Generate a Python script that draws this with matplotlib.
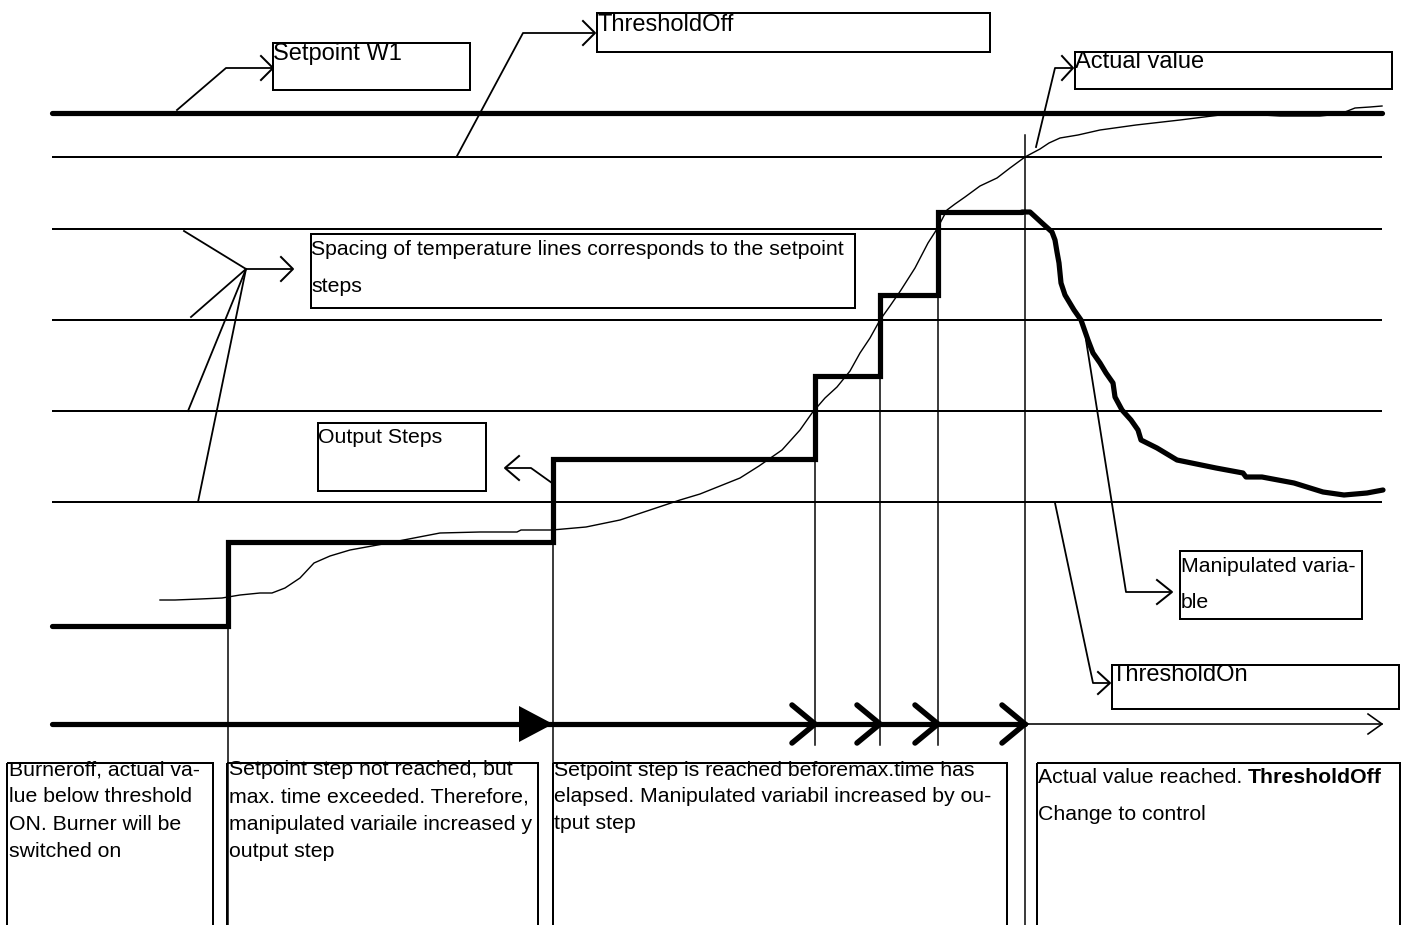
import matplotlib
matplotlib.use("Agg")
import matplotlib.pyplot as plt
from matplotlib.patches import Rectangle, Polygon

plt.rcParams['font.family'] = ['Liberation Sans', 'DejaVu Sans']

# ---------------- data (diagram coordinates, pixel-like units) ----------------
setpoint_y = 113
temp_lines_y = [157, 229, 320, 411, 502]
line_x = [52, 1382]

# manipulated variable: output steps then decay
out_step_x = [52, 228, 553, 815, 880, 938, 1022]
out_step_y = [626, 542, 459, 376, 295, 212, 212]
manip_decay_x = [1022, 1030, 1042, 1052, 1055, 1057, 1059, 1061, 1065, 1074, 1081, 1088, 1093,
                 1100, 1106, 1113, 1115, 1122, 1131, 1138, 1141, 1157, 1177, 1216, 1243, 1246,
                 1262, 1294, 1323, 1344, 1367, 1383]
manip_decay_y = [212, 212, 223, 232, 240, 252, 263, 283, 295, 310, 320, 340, 353,
                 363, 373, 383, 397, 410, 420, 430, 440, 448, 460, 468, 473, 477,
                 477, 483, 492, 495, 493, 490]

# actual value curve
actual_x = [160, 175, 200, 222, 240, 260, 272, 285, 300, 314, 330, 350, 383, 414, 440, 480,
            517, 521, 552, 586, 620, 650, 680, 700, 720, 740, 759, 782, 800, 812, 825, 837,
            850, 860, 870, 880, 890, 901, 915, 928, 937, 947, 955, 965, 980, 997, 1010, 1025,
            1040, 1049, 1060, 1078, 1100, 1136, 1180, 1220, 1245, 1280, 1320, 1340, 1355,
            1370, 1382]
actual_y = [600, 600, 599, 598, 595, 593, 593, 588, 578, 563, 556, 550, 544, 538, 533, 532,
            532, 530, 530, 527, 520, 510, 500, 494, 486, 478, 466, 450, 430, 413, 398, 387,
            371, 353, 338, 320, 306, 290, 268, 243, 229, 210, 204, 197, 186, 178, 168, 157,
            149, 143, 138, 135, 130, 125, 120, 115, 114, 116, 116, 114, 108, 107, 106]

# event (time) markers
event_x = [228, 553, 815, 880, 938, 1025]
event_top = [542, 459, 459, 376, 295, 135]
event_bottom = [925, 925, 745, 745, 745, 925]
timeline_y = 724
chevron_x = [815, 880, 938, 1025]

# ---------------- figure ----------------
fig = plt.figure(figsize=(14.06, 9.25), dpi=100)
ax = fig.add_axes([0, 0, 1, 1])
ax.set_xlim(0, 1406)
ax.set_ylim(925, 0)
ax.axis('off')

PX = 0.72  # points per pixel at 100 dpi
K = 'black'

# temperature lines
ax.plot(line_x, [setpoint_y] * 2, color=K, lw=5.2 * PX, solid_capstyle='round')
for y in temp_lines_y:
    ax.plot(line_x, [y, y], color=K, lw=2.0 * PX, solid_capstyle='butt')

# vertical event lines
for x, t, b in zip(event_x, event_top, event_bottom):
    ax.plot([x, x], [t, b], color=K, lw=1.5 * PX)

# actual value curve
ax.plot(actual_x, actual_y, color=K, lw=1.4 * PX)

# manipulated variable
ax.step(out_step_x, out_step_y, where='post', color=K, lw=5.2 * PX,
        solid_joinstyle='miter', solid_capstyle='round')
ax.plot(manip_decay_x, manip_decay_y, color=K, lw=5.2 * PX,
        solid_joinstyle='round', solid_capstyle='round')

# time line
ax.plot([52, 1025], [timeline_y] * 2, color=K, lw=5.2 * PX, solid_capstyle='round')
ax.plot([1025, 1382], [timeline_y] * 2, color=K, lw=1.6 * PX)
ax.add_patch(Polygon([[519, timeline_y - 18], [553, timeline_y], [519, timeline_y + 18]],
                     closed=True, color=K, lw=0))
for cx in chevron_x:
    ax.plot([cx - 23, cx, cx - 23], [timeline_y - 19, timeline_y, timeline_y + 19],
            color=K, lw=5.5 * PX, solid_capstyle='round', solid_joinstyle='miter')
ax.plot([1368, 1382, 1368], [714, timeline_y, 734], color=K, lw=1.6 * PX)


def open_head(tip, back, half, left=False):
    tx, ty = tip
    bx = tx + back if left else tx - back
    ax.plot([bx, tx, bx], [ty - half, ty, ty + half], color=K, lw=2.0 * PX)


def leader(xs, ys):
    ax.plot(xs, ys, color=K, lw=1.8 * PX)


# leaders
leader([177, 226, 272], [110, 68, 68]); open_head((273, 68), 12, 12)
leader([457, 523, 594], [156, 33, 33]); open_head((595, 33), 12, 12)
leader([1036, 1055, 1072], [147, 68, 68]); open_head((1073, 68), 11, 12)
for sx, sy in [(184, 231), (191, 317), (188, 411), (198, 502)]:
    leader([sx, 246], [sy, 269])
leader([246, 292], [269, 269]); open_head((293, 269), 12, 12)
leader([552, 531, 506], [483, 468, 468]); open_head((505, 468), 14, 12, left=True)
leader([1086, 1126, 1171], [340, 592, 592]); open_head((1172, 592), 15, 12)
leader([1055, 1093, 1109], [503, 683, 683]); open_head((1110, 683), 12, 11)

# boxes
boxes = [(273, 43, 470, 90), (597, 13, 990, 52), (1075, 52, 1392, 89),
         (311, 234, 855, 308), (318, 423, 486, 491), (1180, 551, 1362, 619),
         (1112, 665, 1399, 709),
         (7, 763, 213, 960), (227, 763, 538, 960), (553, 763, 1007, 960),
         (1037, 763, 1400, 960)]
for x0, y0, x1, y1 in boxes:
    ax.add_patch(Rectangle((x0, y0), x1 - x0, y1 - y0, fill=False, ec=K, lw=2.0 * PX))

BIG = 17
SM = 15.3


def txt(x, y, s, size=SM, **kw):
    return ax.text(x, y, s, fontsize=size, ha='left', va='baseline', color=K, **kw)


txt(273, 60, "Setpoint W1", BIG)
txt(597, 31, "ThresholdOff", BIG)
txt(1075, 68, "Actual value", BIG)
txt(1112, 681, "ThresholdOn", BIG)
txt(311, 255, "Spacing of temperature lines corresponds to the setpoint")
txt(311, 292, "steps")
txt(318, 443, "Output Steps")
txt(1181, 572, "Manipulated varia-")
txt(1181, 608, "ble")

box1 = ["Burneroff, actual va-", "lue below threshold", "ON. Burner will be", "switched on"]
box2 = ["Setpoint step not reached, but", "max. time exceeded. Therefore,",
        "manipulated variaile increased y", "output step"]
box3 = ["Setpoint step is reached beforemax.time has",
        "elapsed. Manipulated variabil increased by ou-", "tput step"]
for i, s in enumerate(box1):
    txt(9, 775 + 27.3 * i, s)
for i, s in enumerate(box2):
    txt(229, 775 + 27.3 * i, s)
for i, s in enumerate(box3):
    txt(554, 776 + 26.5 * i, s)

t1 = txt(1038, 783, "Actual value reached. ")
fig.canvas.draw()
r = fig.canvas.get_renderer()
bb = t1.get_window_extent(renderer=r)
x_end = ax.transData.inverted().transform((bb.x1, bb.y0))[0]
txt(x_end, 783, "ThresholdOff", fontweight='bold')
txt(1038, 820, "Change to control")

fig.savefig("out.png", dpi=100)
